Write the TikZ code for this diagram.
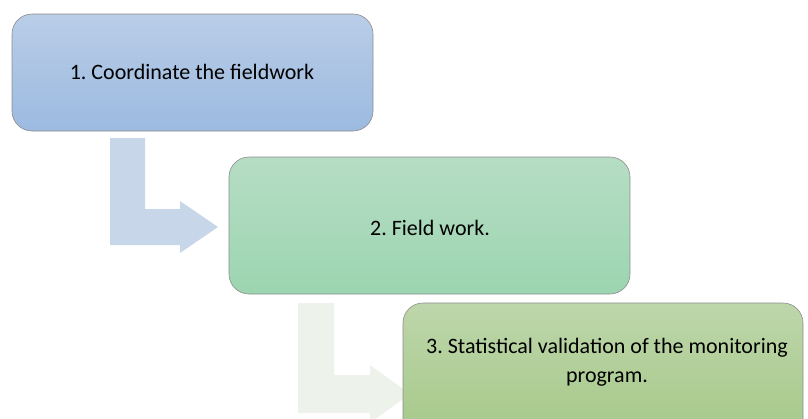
\documentclass[tikz,border=0pt]{standalone}
\usepackage{fontspec}
\setmainfont{Carlito}
\frenchspacing
\begin{document}
\begin{tikzpicture}[x=1pt,y=-1pt,
  stepbox/.style={draw=black!45, line width=0.6pt, rounded corners=20pt},
  steptext/.style={font=\fontsize{22}{29}\selectfont, align=center, inner sep=0pt}]
\useasboundingbox (0,0) rectangle (808,418);
\clip (0,0) rectangle (808,418);
\definecolor{ar1}{HTML}{C8D6EA}
\definecolor{ar2}{HTML}{EDF2EA}
% arrows
\fill[ar1] (110,138) -- (145,138) -- (145,209) -- (180,209) -- (180,201) -- (218,227) -- (180,253) -- (180,245) -- (110,245) -- cycle;
\fill[ar2] (298,303) -- (334,303) -- (334,375) -- (370,375) -- (370,365) -- (410,394) -- (370,423) -- (370,413) -- (298,413) -- cycle;
% boxes
\shade[stepbox, top color={rgb,255:red,185;green,205;blue,231}, bottom color={rgb,255:red,156;green,186;blue,224}] (12,14) rectangle (373,131);
\node[steptext] (b1) at (192,72) {1. Coordinate the fieldwork};
\shade[stepbox, top color={rgb,255:red,182;green,221;blue,196}, bottom color={rgb,255:red,156;green,213;blue,176}] (229,157) rectangle (630,294);
\node[steptext] (b2) at (430,228) {2. Field work.};
\shade[stepbox, top color={rgb,255:red,190;green,214;blue,170}, bottom color={rgb,255:red,164;green,200;blue,136}] (403,303) rectangle (803,445);
\node[steptext] (b3) at (607,362) {3. Statistical validation of the monitoring\\program.};
\end{tikzpicture}
\end{document}
